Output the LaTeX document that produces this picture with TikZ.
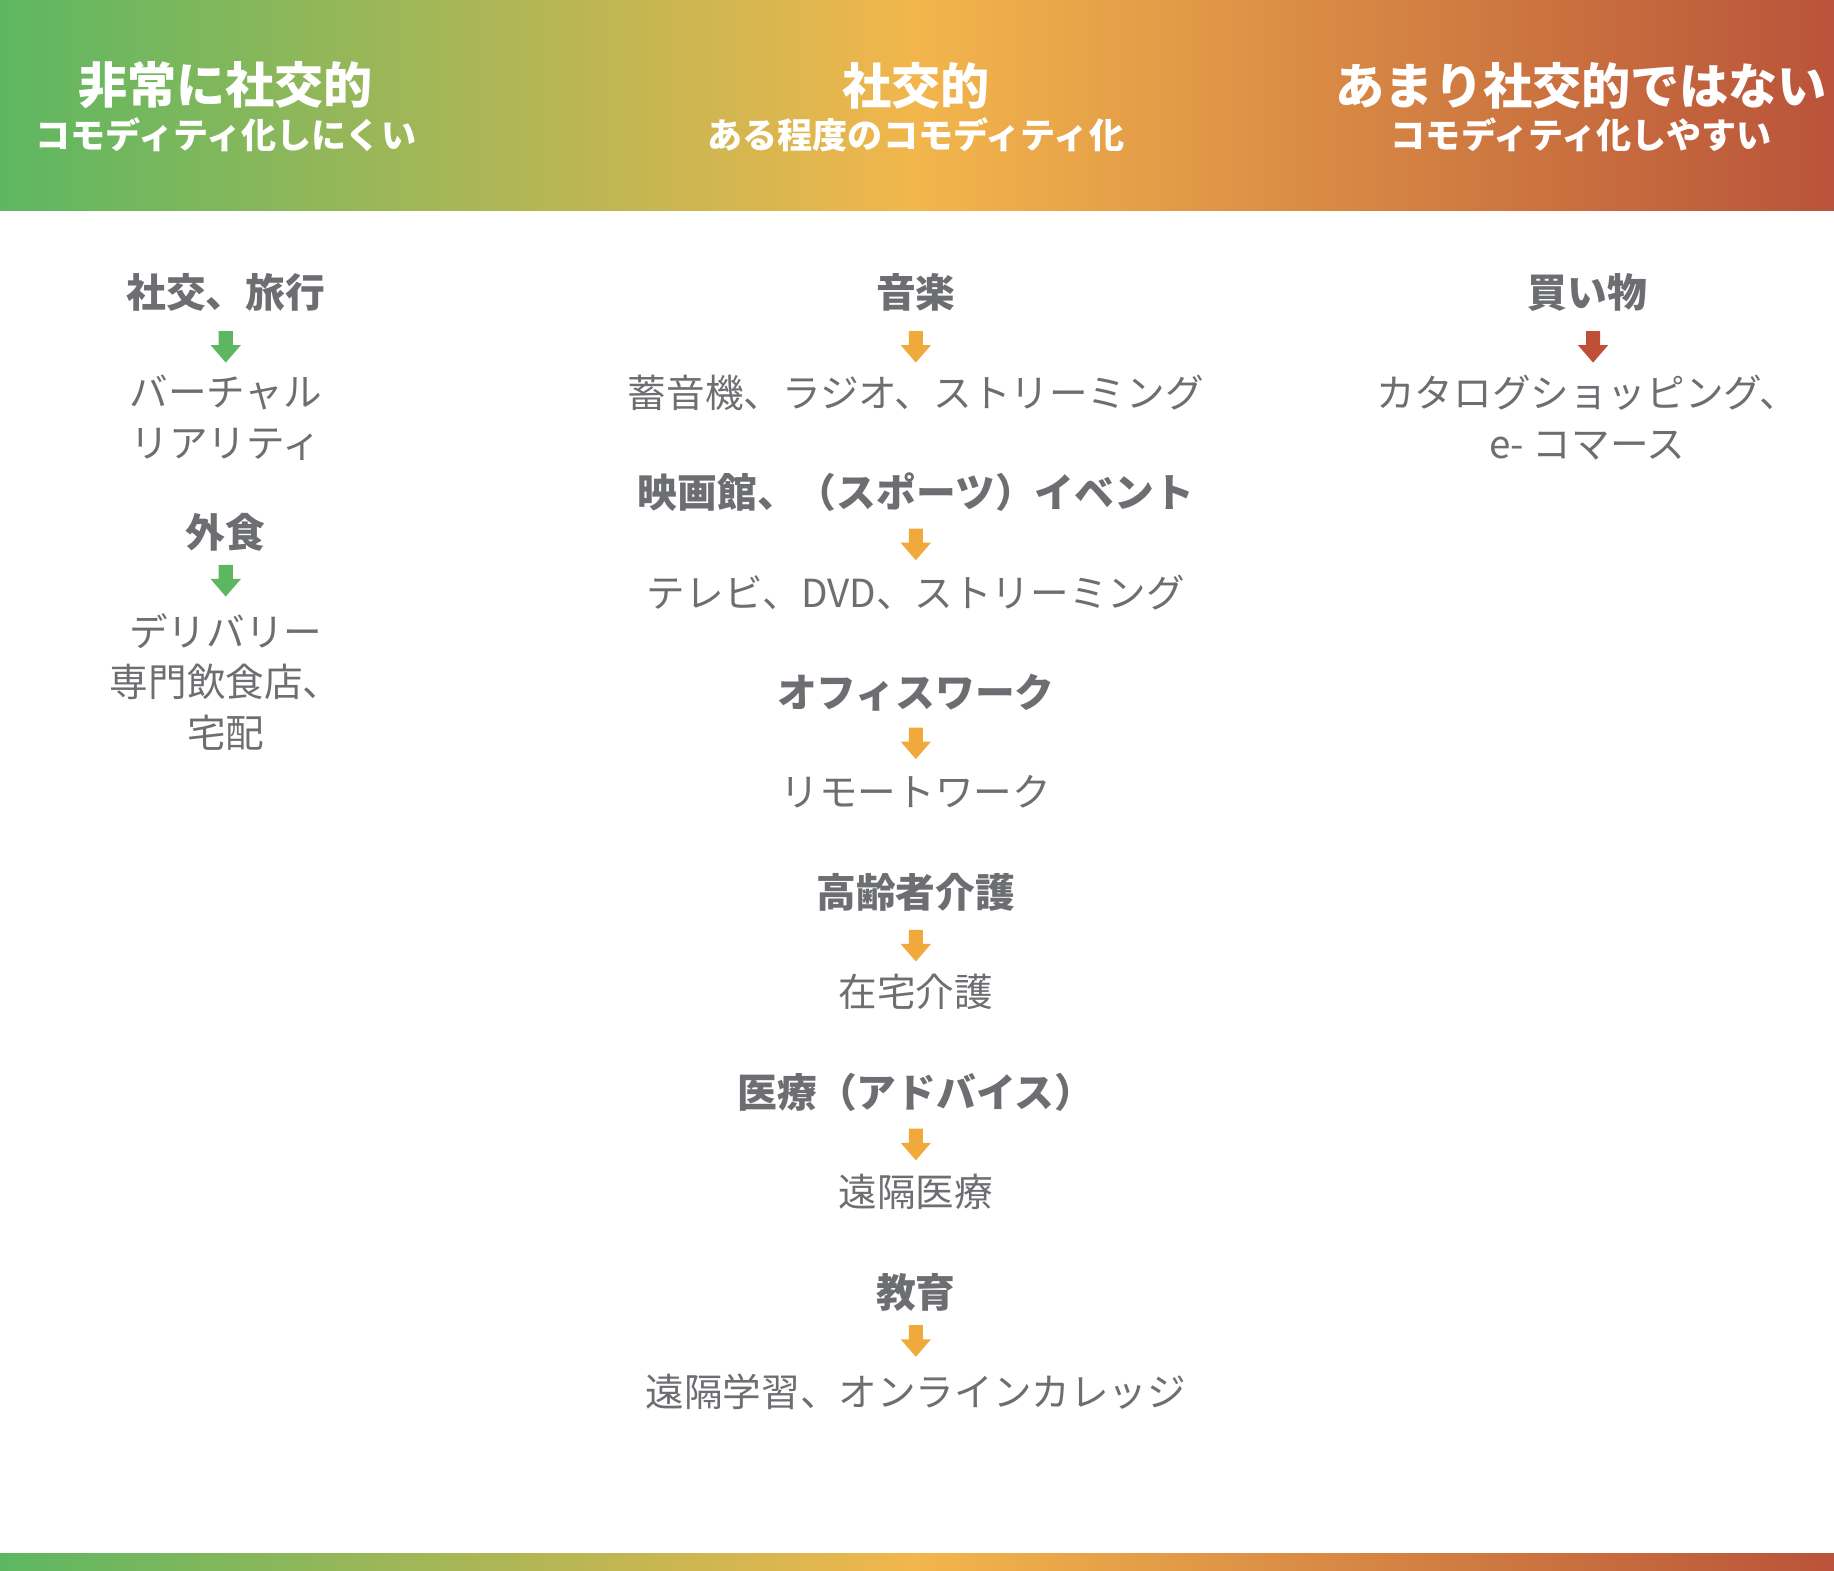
\documentclass[tikz,border=0pt]{standalone}
\usepackage{fontspec}
\newfontfamily\jp{Noto Sans CJK JP}
\definecolor{cg}{HTML}{5DB761}
\definecolor{cy}{HTML}{F2B64C}
\definecolor{cr}{HTML}{B9533A}
\definecolor{ao}{HTML}{F0AA3C}
\definecolor{ar}{HTML}{BF4F36}
\definecolor{tx}{HTML}{6D6E71}
\begin{document}
\begin{tikzpicture}[x=1pt,y=-1pt,
  hd/.style={text=white,font=\jp\bfseries\fontsize{42}{46}\selectfont},
  hs/.style={text=white,font=\jp\bfseries\fontsize{30}{33}\selectfont},
  bl/.style={text=tx,font=\jp\bfseries\fontsize{34}{38}\selectfont},
  nl/.style={text=tx,font=\jp\fontsize{33}{43}\selectfont,align=center},
  dn/.pic={\fill (-6,0) -- (6,0) -- (6,12) -- (13,12) -- (0,27) -- (-13,12) -- (-6,12) -- cycle;}]
\useasboundingbox (0,0) rectangle (1568,1343);
\shade[left color=cg,right color=cr,middle color=cy] (0,0) rectangle (1568,180);
\shade[left color=cg,right color=cr,middle color=cy] (0,1328) rectangle (1568,1343);
\node[hd] (h1) at (193,73) {非常に社交的};
\node[hs] (s1) at (193,115) {コモディティ化しにくい};
\node[hd] (h2) at (783,73) {社交的};
\node[hs] (s2) at (783,115) {ある程度のコモディティ化};
\node[hd] (h3) at (1352,73) {あまり社交的ではない};
\node[hs] (s3) at (1352,115) {コモディティ化しやすい};
% left
\node[bl] (l1) at (193,250) {社交、旅行};
\pic[fill=cg] at (193,283) {dn};
\node[nl] (l2) at (193,357) {バーチャル\\リアリティ};
\node[bl] (l3) at (193,455) {外食};
\pic[fill=cg] at (193,483) {dn};
\node[nl] (l4) at (193,583) {デリバリー\\専門飲食店、\\宅配};
% center
\node[bl] (c1) at (783,250) {音楽};
\pic[fill=ao] at (783,283) {dn};
\node[nl] (c2) at (783,336) {蓄音機、ラジオ、ストリーミング};
\node[bl] (c3) at (783,421) {映画館、（スポーツ）イベント};
\pic[fill=ao] at (783,452) {dn};
\node[nl] (c4) at (783,507) {テレビ、DVD、ストリーミング};
\node[bl] (c5) at (783,592) {オフィスワーク};
\pic[fill=ao] at (783,622) {dn};
\node[nl] (c6) at (783,677) {リモートワーク};
\node[bl] (c7) at (783,763) {高齢者介護};
\pic[fill=ao] at (783,795) {dn};
\node[nl] (c8) at (783,848) {在宅介護};
\node[bl] (c9) at (783,934) {医療（アドバイス）};
\pic[fill=ao] at (783,965) {dn};
\node[nl] (c10) at (783,1019) {遠隔医療};
\node[bl] (c11) at (783,1105) {教育};
\pic[fill=ao] at (783,1133) {dn};
\node[nl] (c12) at (783,1190) {遠隔学習、オンラインカレッジ};
% right
\node[bl] (r1) at (1357,250) {買い物};
\pic[fill=ar] at (1362,283) {dn};
\node[nl] (r2) at (1357,357) {カタログショッピング、\\e- コマース};
\end{tikzpicture}
\end{document}
